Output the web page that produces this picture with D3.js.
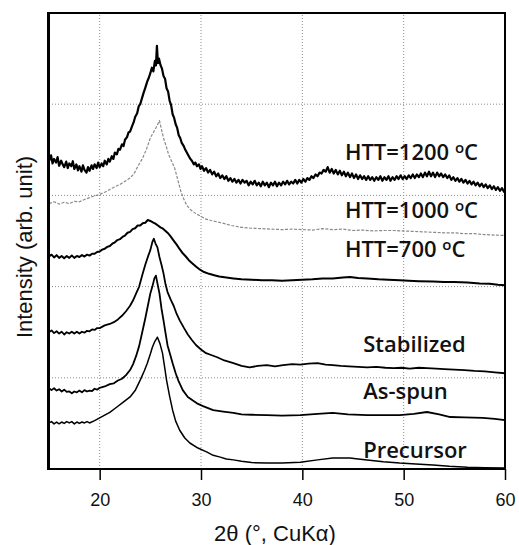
<!DOCTYPE html>
<html lang="en">
<head>
<meta charset="utf-8">
<title>XRD patterns</title>
<script src="https://d3js.org/d3.v7.min.js"></script>
<style>
  body { margin: 0; background: #fff; }
  .tick text { font-family: "Liberation Sans", Arial, sans-serif; font-size: 18px; fill: #111; }
  .title { font-family: "Liberation Sans", Arial, sans-serif; font-size: 22px; fill: #111; }
  .lbl { font-family: "Open Sans", sans-serif; font-size: 22px; font-weight: 600; fill: #111; }
</style>
</head>
<body>
<div id="chart"></div>
<script>

// 2theta (deg), intensity (arb. unit, stacking offset included)
var htt1200 = [[15.0,675],[15.2,688],[15.35,670],[15.5,680],[15.7,672],[15.85,684],[16.0,665],[16.2,676],[16.35,668],[16.5,662],[16.7,674],[16.85,660],[17.0,670],[17.2,664],[17.35,675],[17.5,658],[17.7,668],[17.85,655],[18.0,664],[18.2,652],[18.35,666],[18.5,656],[18.7,650],[18.85,662],[19.0,654],[19.2,666],[19.35,658],[19.5,668],[19.7,660],[19.85,672],[20.0,662],[20.2,670],[20.35,664],[20.5,676],[20.7,668],[20.85,680],[21.0,674],[21.2,686],[21.35,680],[21.5,694],[21.7,690],[21.85,702],[22.0,700],[22.2,712],[22.35,708],[22.5,722],[22.7,728],[22.85,738],[23.0,740],[23.2,752],[23.35,760],[23.5,772],[23.7,780],[23.85,795],[24.0,800],[24.2,815],[24.35,826],[24.5,836],[24.7,850],[24.85,858],[25.0,868],[25.15,880],[25.3,872],[25.45,895],[25.55,885],[25.65,928],[25.75,890],[25.85,900],[26.0,886],[26.15,878],[26.3,862],[26.45,856],[26.6,835],[26.75,828],[26.9,808],[27.05,798],[27.2,778],[27.35,770],[27.5,756],[27.65,748],[27.8,732],[27.95,726],[28.1,715],[28.3,708],[28.45,700],[28.6,694],[28.8,686],[28.95,680],[29.1,676],[29.3,668],[29.45,672],[29.6,664],[29.8,668],[29.95,658],[30.1,664],[30.3,654],[30.5,660],[30.7,650],[30.9,656],[31.1,646],[31.3,652],[31.5,642],[31.7,648],[31.9,638],[32.1,644],[32.3,636],[32.5,642],[32.7,632],[32.9,638],[33.1,630],[33.3,636],[33.5,628],[33.7,634],[33.9,626],[34.1,634],[34.3,628],[34.5,632],[34.7,622],[34.9,630],[35.1,624],[35.3,632],[35.5,622],[35.7,628],[35.9,620],[36.1,630],[36.3,622],[36.5,628],[36.7,618],[36.9,628],[37.1,622],[37.3,630],[37.5,620],[37.7,628],[37.9,622],[38.1,630],[38.3,624],[38.5,632],[38.7,624],[38.9,630],[39.1,626],[39.3,634],[39.5,626],[39.7,634],[39.9,628],[40.1,636],[40.3,630],[40.5,638],[40.7,634],[40.9,642],[41.1,638],[41.3,646],[41.5,642],[41.7,650],[41.9,648],[42.1,656],[42.3,652],[42.5,662],[42.7,650],[42.9,658],[43.1,648],[43.3,656],[43.5,646],[43.7,654],[43.9,644],[44.1,652],[44.3,642],[44.5,650],[44.7,640],[44.9,648],[45.1,638],[45.3,646],[45.5,636],[45.7,644],[45.9,636],[46.1,642],[46.3,634],[46.5,642],[46.7,634],[46.9,640],[47.1,632],[47.3,640],[47.5,634],[47.7,642],[47.9,632],[48.1,640],[48.3,634],[48.5,642],[48.7,632],[48.9,640],[49.1,634],[49.3,642],[49.5,636],[49.7,644],[49.9,636],[50.1,642],[50.3,636],[50.5,644],[50.7,638],[50.9,646],[51.1,638],[51.3,646],[51.5,640],[51.7,648],[51.9,640],[52.1,650],[52.3,642],[52.5,652],[52.7,642],[52.9,650],[53.1,640],[53.3,650],[53.5,642],[53.7,648],[53.9,640],[54.1,646],[54.3,638],[54.5,644],[54.7,634],[54.9,640],[55.1,632],[55.3,638],[55.5,630],[55.7,636],[55.9,628],[56.1,634],[56.3,626],[56.5,632],[56.7,624],[56.9,630],[57.1,622],[57.3,628],[57.5,620],[57.7,626],[57.9,618],[58.1,624],[58.3,616],[58.5,622],[58.7,614],[58.9,620],[59.1,612],[59.3,618],[59.5,610],[59.7,616],[59.9,608],[60.0,612]];

var htt1000 = [[15.0,582],[15.5,586],[16.0,581],[16.5,585],[17.0,582],[17.5,587],[18.0,586],[18.5,591],[19.0,595],[19.5,599],[20.0,602],[20.5,607],[21.0,613],[21.5,619],[22.0,624],[22.5,631],[23.0,638],[23.4,648],[23.8,665],[24.2,680],[24.6,700],[25.0,726],[25.3,738],[25.6,750],[25.9,764],[26.1,745],[26.3,726],[26.6,705],[26.8,690],[27.1,675],[27.4,660],[27.7,635],[28.0,610],[28.3,592],[28.6,578],[29.0,568],[29.5,560],[30.0,554],[30.5,548],[31.0,545],[32.0,540],[33.0,534],[34.0,530],[35.0,528],[36.0,527],[37.0,526],[38.0,525],[39.0,526],[40.0,525],[41.0,524],[42.0,527],[43.0,525],[44.0,526],[45.0,523],[46.0,524],[47.0,522],[48.0,523],[49.0,523],[50.0,522],[51.0,521],[52.0,520],[53.0,519],[54.0,518],[55.0,518],[56.0,516],[57.0,516],[58.0,514],[59.0,513],[60.0,512]];

var htt700 = [[15.0,466],[15.25,470],[15.5,464],[15.75,469],[16.0,463],[16.25,467],[16.5,462],[16.75,467],[17.0,463],[17.25,468],[17.5,463],[17.75,467],[18.0,465],[18.25,469],[18.5,466],[18.75,470],[19.0,468],[19.25,472],[19.5,472],[19.75,476],[20.0,477],[20.25,481],[20.5,483],[20.75,487],[21.0,489],[21.25,494],[21.5,497],[21.75,502],[22.0,504],[22.25,509],[22.5,512],[22.75,518],[23.0,520],[23.25,526],[23.5,528],[23.75,534],[24.0,534],[24.25,539],[24.5,540],[24.75,546],[25.0,544],[25.25,541],[25.5,538],[25.75,534],[26.0,530],[26.25,527],[26.5,522],[26.75,517],[27.0,510],[27.3,501],[27.6,492],[27.9,482],[28.2,473],[28.5,466],[28.8,458],[29.1,452],[29.5,444],[29.9,437],[30.3,432],[30.8,428],[31.3,425],[31.8,422],[32.5,420],[33.2,418],[34.0,416],[35.0,415],[36.0,414],[37.0,414],[38.0,413],[39.0,414],[40.0,415],[41.0,416],[42.0,418],[43.0,418],[44.0,420],[44.7,421],[45.5,419],[46.4,418],[47.5,416],[48.5,415],[49.6,414],[50.5,413],[51.5,412],[52.9,411],[54.0,410],[55.0,410],[56.3,409],[57.5,407],[58.5,406],[59.3,404],[60.0,403]];

var stabilized = [[15.0,300],[15.25,304],[15.5,298],[15.75,302],[16.0,297],[16.25,301],[16.5,295],[16.75,300],[17.0,297],[17.25,301],[17.5,297],[17.75,301],[18.0,297],[18.25,301],[18.5,299],[18.75,303],[19.0,302],[19.25,306],[19.5,305],[19.75,309],[20.0,309],[20.5,315],[21.0,318],[21.4,322],[21.8,328],[22.2,336],[22.6,346],[23.0,358],[23.3,370],[23.6,385],[23.9,400],[24.2,425],[24.5,448],[24.8,468],[25.0,480],[25.2,498],[25.35,505],[25.5,495],[25.7,486],[25.9,465],[26.1,448],[26.3,429],[26.5,405],[26.7,388],[27.0,372],[27.3,358],[27.6,340],[27.9,326],[28.3,310],[28.7,295],[29.1,283],[29.5,272],[30.0,262],[30.5,254],[31.0,250],[31.6,245],[32.3,238],[33.2,232],[34.0,226],[34.8,223],[35.6,226],[36.5,228],[37.3,225],[38.1,228],[39.0,230],[39.8,229],[40.6,231],[41.5,232],[42.3,229],[43.0,228],[43.8,226],[44.6,225],[45.5,224],[46.4,223],[47.3,224],[48.2,222],[49.0,221],[49.8,222],[50.6,220],[51.5,222],[52.3,221],[53.2,220],[54.0,219],[55.0,218],[56.0,217],[57.0,215],[58.0,214],[59.0,212],[60.0,210]];

var asSpun = [[15.0,177],[15.25,173],[15.5,177],[15.75,172],[16.0,175],[16.25,170],[16.5,174],[16.75,169],[17.0,170],[17.25,166],[17.5,170],[17.75,168],[18.0,172],[18.25,168],[18.5,173],[18.75,170],[19.0,172],[19.25,171],[19.5,176],[19.75,174],[20.0,178],[20.5,181],[21.0,186],[21.4,188],[21.8,194],[22.2,198],[22.6,206],[23.0,217],[23.3,230],[23.6,248],[23.9,270],[24.2,300],[24.5,330],[24.8,363],[25.0,385],[25.2,400],[25.4,418],[25.55,424],[25.7,407],[25.9,385],[26.1,352],[26.3,326],[26.5,298],[26.7,271],[27.0,248],[27.2,232],[27.5,210],[27.8,192],[28.2,173],[28.7,158],[29.2,150],[29.6,144],[30.2,138],[31.2,129],[32.2,126],[33.2,123],[34.0,120],[35.0,119],[36.5,118],[38.0,117],[39.8,118],[41.5,121],[43.0,123],[44.5,120],[46.4,118],[48.0,118],[49.6,118],[51.0,121],[52.3,125],[53.5,120],[54.6,114],[56.0,113],[57.8,112],[59.0,110],[60.0,107]];

var precursor = [[15.0,101],[15.25,104],[15.5,99],[15.75,103],[16.0,99],[16.25,103],[16.5,100],[16.75,104],[17.0,101],[17.25,104],[17.5,99],[17.75,103],[18.0,100],[18.25,103],[18.5,101],[18.75,104],[19.0,101],[19.5,106],[20.0,112],[20.5,118],[21.0,124],[21.7,136],[22.3,146],[23.0,158],[23.5,172],[24.0,195],[24.4,215],[24.7,232],[25.0,252],[25.2,267],[25.45,280],[25.7,289],[25.95,275],[26.2,254],[26.4,225],[26.6,195],[26.9,160],[27.2,129],[27.5,105],[27.9,85],[28.4,68],[28.9,57],[29.7,46],[30.6,37],[31.2,30],[31.9,26],[32.5,22],[33.2,20],[34.0,17],[35.0,14],[36.5,13],[38.0,13],[39.8,15],[41.5,20],[43.0,24],[44.7,24],[45.5,22],[46.4,20],[48.0,16],[49.6,13],[51.2,11],[52.9,9],[54.5,6],[56.3,4],[58.0,3],[60.0,2]];

var labels = ["HTT=1200 ", "HTT=1000 ", "HTT=700 ", "Stabilized", "As-spun", "Precursor"];
var labelUnit = [true, true, true, false, false, false];
var labelTheta = [44.2, 44.2, 44.2, 46.0, 46.0, 46.0];
var labelLevel = [678, 551, 464, 256, 153, 24];

var xTicks = [20, 30, 40, 50, 60];
var yGrid = [200, 400, 600, 800];

var W = 519, H = 545;
var margin = {top: 13, right: 14, bottom: 76, left: 49};

var svg = d3.select("#chart").append("svg")
    .attr("width", W)
    .attr("height", H);

var x = d3.scaleLinear().domain([15, 60]).range([margin.left, W - margin.right]);
var y = d3.scaleLinear().domain([0, 1000]).range([H - margin.bottom, margin.top]);

// dotted grid
svg.append("g").selectAll("line")
    .data(xTicks.filter(function(d) { return d < 60; }))
    .enter().append("line")
      .attr("x1", function(d) { return x(d); })
      .attr("x2", function(d) { return x(d); })
      .attr("y1", y(0)).attr("y2", y(1000))
      .attr("stroke", "#8c8c8c").attr("stroke-width", 1)
      .attr("stroke-dasharray", "1,2");
svg.append("g").selectAll("line")
    .data(yGrid)
    .enter().append("line")
      .attr("x1", x(15)).attr("x2", x(60))
      .attr("y1", function(d) { return y(d); })
      .attr("y2", function(d) { return y(d); })
      .attr("stroke", "#8c8c8c").attr("stroke-width", 1)
      .attr("stroke-dasharray", "1,2");

// curves
var line = d3.line()
    .x(function(d) { return x(d[0]); })
    .y(function(d) { return y(d[1]); });

var series = [
  {data: htt1200, color: "#000", width: 2.2, dash: null},
  {data: htt1000, color: "#8a8a8a", width: 1.2, dash: "3,1.5"},
  {data: htt700, color: "#000", width: 2, dash: null},
  {data: stabilized, color: "#000", width: 1.8, dash: null},
  {data: asSpun, color: "#000", width: 1.8, dash: null},
  {data: precursor, color: "#000", width: 1.5, dash: null}
];

series.forEach(function(s) {
  svg.append("path")
      .datum(s.data)
      .attr("fill", "none")
      .attr("stroke", s.color)
      .attr("stroke-width", s.width)
      .attr("stroke-linejoin", "round")
      .attr("stroke-dasharray", s.dash)
      .attr("d", line);
});

// frame, drawn as thin filled bars: [x, y, w, h]
var xl = x(15), xr = x(60), yb = y(0), yt = y(1000);
var frame = [[xl - 2, yt - 1, xr - xl + 3, 2],
             [xr - 1, yt - 1, 2, yb - yt + 2],
             [xl - 2, yb - 1, xr - xl + 3, 2],
             [xl - 2, yt - 1, 3, yb - yt + 2]];
svg.append("g").selectAll("rect")
    .data(frame)
    .enter().append("rect")
      .attr("x", function(d) { return d[0]; })
      .attr("y", function(d) { return d[1]; })
      .attr("width", function(d) { return d[2]; })
      .attr("height", function(d) { return d[3]; })
      .attr("fill", "#000");

// x axis
var xAxis = svg.append("g")
    .attr("transform", "translate(0," + yb + ")")
    .call(d3.axisBottom(x).tickValues(xTicks).tickSize(11).tickPadding(13).tickFormat(d3.format("d")));
xAxis.select(".domain").remove();
xAxis.selectAll(".tick line").attr("stroke", "#000").attr("stroke-width", 1.5);

// axis titles
svg.append("text")
    .attr("class", "title")
    .attr("text-anchor", "middle")
    .attr("x", (xl + xr) / 2 - 2)
    .attr("y", 541)
    .text("2\u03b8 (\u00b0, CuK\u03b1)");

svg.append("text")
    .attr("class", "title")
    .attr("text-anchor", "middle")
    .attr("transform", "translate(32," + ((yb + yt) / 2 + 6) + ") rotate(-90)")
    .text("Intensity (arb. unit)");

// curve labels
var lbl = svg.append("g").selectAll("text")
    .data(labels)
    .enter().append("text")
      .attr("class", "lbl")
      .attr("x", function(d, i) { return x(labelTheta[i]); })
      .attr("y", function(d, i) { return y(labelLevel[i]); })
      .text(function(d) { return d; });

lbl.filter(function(d, i) { return labelUnit[i]; })
    .each(function() {
      var t = d3.select(this);
      t.append("tspan").attr("dy", -7).style("font-size", "15px").text("o");
      t.append("tspan").attr("dy", 7).text("C");
    });

</script>
</body>
</html>
